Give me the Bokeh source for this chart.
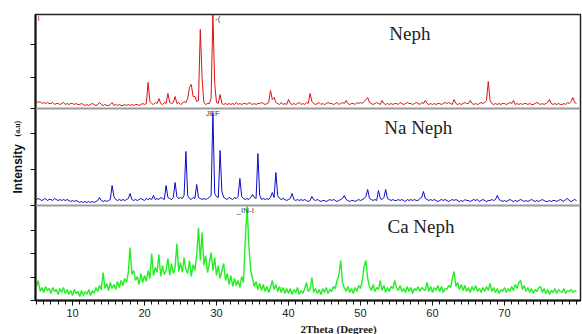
import numpy as np
from bokeh.plotting import figure
from bokeh.models import Range1d, FixedTicker, Label, Span, Title
from bokeh.embed import file_html
from bokeh.resources import INLINE

# 2Theta grid (degrees), 0.25 deg step from 5 to 80
two_theta = np.round(np.arange(5.0, 80.001, 0.25), 2)

# Intensities (a.u.), one group of 4 per degree
neph = [
    7, 6, 7, 5,  6, 5, 6, 5,  5, 6, 4, 5,  5, 4, 5, 6,  4, 5, 4, 5,
    5, 4, 5, 4,  4, 5, 4, 3,  4, 3, 4, 5,  4, 3, 4, 6,  4, 3, 4, 3,
    3, 4, 6, 3,  4, 3, 4, 3,  3, 4, 3, 4,  3, 4, 3, 4,  4, 3, 4, 5,
    4, 5, 26, 7,  5, 4, 6, 5,  10, 5, 4, 6,  5, 15, 6, 5,  6, 12, 5, 6,
    4, 5, 7, 6,  10, 21, 24, 12,  12, 7, 8, 79,  30, 6, 4, 5,  5, 10, 94, 25,
    6, 5, 14, 5,  4, 5, 4, 5,  4, 5, 4, 6,  4, 5, 4, 5,  5, 4, 6, 5,
    4, 5, 4, 5,  5, 6, 5, 4,  5, 6, 18, 9,  11, 6, 5, 4,  6, 4, 5, 4,
    9, 5, 4, 5,  4, 5, 6, 4,  5, 4, 6, 5,  15, 7, 5, 4,  5, 6, 4, 5,
    4, 5, 6, 5,  5, 4, 5, 6,  4, 5, 6, 5,  8, 5, 4, 5,  5, 4, 6, 5,
    6, 5, 7, 9,  11, 6, 5, 4,  5, 6, 5, 4,  8, 5, 4, 5,  4, 5, 4, 5,
    5, 4, 6, 5,  4, 5, 6, 5,  5, 4, 5, 6,  5, 4, 6, 5,  8, 5, 4, 5,
    4, 5, 4, 5,  5, 4, 5, 6,  5, 6, 5, 4,  9, 5, 4, 5,  4, 5, 6, 5,
    5, 8, 5, 4,  5, 4, 5, 6,  5, 6, 8, 27,  8, 5, 4, 5,  4, 5, 4, 5,
    5, 4, 5, 6,  5, 8, 4, 5,  4, 5, 4, 5,  5, 4, 5, 4,  4, 5, 6, 5,
    4, 5, 4, 5,  6, 9, 5, 4,  5, 4, 5, 4,  4, 5, 4, 6,  5, 7, 11, 6,
    5,
]
na_neph = [
    6, 7, 6, 5,  6, 7, 5, 6,  6, 5, 7, 6,  5, 6, 5, 6,  5, 6, 5, 4,
    5, 4, 5, 4,  3, 4, 3, 4,  3, 4, 3, 4,  3, 4, 5, 8,  5, 4, 5, 4,
    5, 6, 20, 9,  6, 5, 6, 5,  6, 5, 6, 7,  12, 6, 5, 6,  5, 6, 7, 6,
    5, 7, 6, 7,  6, 10, 6, 7,  6, 8, 7, 6,  20, 8, 7, 6,  8, 23, 9, 7,
    8, 7, 10, 54,  10, 7, 6, 8,  7, 21, 8, 7,  6, 7, 6, 7,  8, 10, 93, 12,
    9, 8, 55, 14,  8, 7, 6, 8,  7, 6, 8, 7,  9, 27, 9, 7,  6, 7, 6, 8,
    11, 8, 7, 52,  10, 6, 7, 6,  7, 6, 8, 13,  8, 33, 10, 7,  6, 7, 6, 5,
    6, 7, 12, 6,  5, 6, 5, 6,  5, 6, 5, 4,  5, 9, 6, 5,  6, 5, 4, 5,
    5, 4, 5, 6,  5, 6, 5, 4,  5, 6, 7, 10,  6, 5, 4, 5,  5, 4, 5, 6,
    5, 6, 7, 9,  16, 7, 6, 5,  6, 5, 15, 7,  6, 8, 16, 7,  6, 5, 6, 5,
    5, 6, 5, 6,  5, 4, 6, 5,  6, 5, 6, 5,  5, 7, 8, 14,  7, 6, 5, 6,
    5, 6, 5, 4,  5, 6, 5, 6,  5, 4, 5, 6,  5, 6, 5, 4,  5, 4, 6, 5,
    5, 4, 5, 6,  5, 6, 4, 5,  6, 5, 4, 5,  5, 6, 5, 6,  10, 6, 5, 4,
    5, 4, 5, 6,  5, 4, 5, 4,  5, 6, 5, 4,  5, 4, 5, 6,  5, 4, 5, 4,
    5, 6, 5, 4,  4, 5, 4, 5,  5, 4, 5, 6,  5, 4, 6, 7,  5, 4, 5, 6,
    5,
]
ca_neph = [
    14, 20, 9, 13,  8, 14, 10, 12,  7, 13, 9, 11,  6, 12, 8, 13,  7, 11, 6, 10,
    5, 11, 7, 9,  4, 10, 5, 9,  6, 11, 5, 10,  7, 13, 9, 15,  11, 28, 12, 17,
    10, 18, 12, 16,  11, 19, 13, 20,  15, 22, 18, 28,  53, 26, 30, 20,  24, 16, 27, 18,
    25, 19, 30, 22,  47, 25, 33, 28,  46, 24, 35, 26,  30, 42, 25, 37,  27, 33, 57, 29,
    38, 28, 43, 31,  27, 40, 24, 36,  30, 45, 73, 40,  68, 35, 45, 28,  37, 48, 30, 43,
    25, 35, 22, 30,  37, 20, 27, 16,  25, 14, 22, 15,  20, 13, 24, 18,  60, 95, 55, 30,
    22, 14, 19, 11,  17, 10, 16, 9,  14, 8, 13, 20,  11, 16, 9, 14,  8, 13, 7, 12,
    7, 12, 6, 11,  8, 13, 6, 10,  7, 12, 18, 9,  11, 23, 8, 12,  7, 11, 6, 12,
    8, 13, 7, 11,  9, 14, 12, 20,  26, 40, 18, 13,  9, 14, 8, 12,  7, 13, 9, 15,
    12, 20, 34, 40,  22, 14, 10, 16,  9, 13, 11, 20,  10, 15, 8, 13,  9, 14, 12, 20,
    13, 10, 15, 9,  12, 8, 14, 9,  13, 7, 12, 10,  14, 9, 13, 11,  10, 18, 9, 14,
    8, 13, 10, 15,  9, 14, 8, 12,  11, 15, 13, 22,  29, 14, 18, 11,  16, 10, 15, 9,
    13, 8, 14, 10,  15, 9, 12, 8,  13, 9, 14, 10,  17, 9, 13, 8,  12, 7, 11, 9,
    13, 8, 12, 9,  14, 10, 16, 12,  18, 20, 11, 15,  9, 13, 8, 12,  7, 11, 9, 13,
    14, 8, 12, 7,  11, 6, 10, 8,  12, 7, 11, 9,  8, 12, 7, 10,  9, 11, 8, 10,
    9,
]

# vertical stacking offsets of the three patterns
CA_OFF, NA_OFF, NEPH_OFF = 0, 95, 192
y_ticks = [0, 23, 47, 70, 95, 131, 167, 192, 223, 256]
x_ticks = [10, 20, 30, 40, 50, 60, 70]

assert len(neph) == len(two_theta) == len(na_neph) == len(ca_neph)

p = figure(width=582, height=334, x_range=Range1d(4.86, 80.56), y_range=Range1d(0, 286),
           output_backend="svg", toolbar_location=None,
           min_border_left=35, min_border_right=2, min_border_top=14, min_border_bottom=34)
p.xgrid.visible = False
p.ygrid.visible = False
p.outline_line_color = "#222222"
p.outline_line_width = 1.5
p.background_fill_color = "white"
p.border_fill_color = "white"

# x axis
xa = p.xaxis[0]
xa.ticker = FixedTicker(ticks=x_ticks, minor_ticks=list(range(5, 81)))
xa.axis_line_width = 2
xa.axis_line_color = "#111111"
xa.major_tick_out = 5
xa.major_tick_in = 0
xa.minor_tick_out = 4
xa.minor_tick_in = 0
xa.major_tick_line_color = "#111111"
xa.minor_tick_line_color = "#111111"
xa.major_label_standoff = 3
xa.major_label_text_font = "Liberation Sans"
xa.major_label_text_font_size = "11px"
xa.major_label_text_color = "#222222"

# y axis
ya = p.yaxis[0]
ya.ticker = FixedTicker(ticks=y_ticks, minor_ticks=[])
ya.major_label_overrides = {t: "" for t in y_ticks}
ya.major_label_text_font_size = "1px"
ya.major_label_standoff = 0
ya.axis_line_width = 2
ya.axis_line_color = "#111111"
ya.major_tick_out = 5
ya.major_tick_in = 0
ya.major_tick_line_color = "#111111"

# panel baselines
for off in (NA_OFF, NEPH_OFF):
    p.add_layout(Span(location=off, dimension="width", line_color="#9a9a9a", line_width=2))

p.line(two_theta, np.array(ca_neph) + CA_OFF, line_color="#22ee22", line_width=1.4)
p.line(two_theta, np.array(na_neph) + NA_OFF, line_color="#0a0ac8", line_width=1)
p.line(two_theta, np.array(neph) + NEPH_OFF, line_color="#dd1111", line_width=1)

serif = "Liberation Serif"
for txt, x, y in [("Neph", 54.0, 267), ("Na Neph", 53.3, 173), ("Ca Neph", 53.75, 74)]:
    p.add_layout(Label(x=x, y=y, text=txt, text_font=serif, text_font_size="19px",
                       text_baseline="middle", text_align="left", text_color="#222222"))

# small marker texts
for txt, x, y, col in [("I", 5.3, 282, "#cc2222"), ("-(", 29.8, 282, "#444444"),
                       ("JEF", 29.5, 187, "#444444"), ("_IN-I", 34.0, 90, "#444444")]:
    p.add_layout(Label(x=x, y=y, text=txt, text_font="Liberation Sans", text_font_size="8px",
                       text_baseline="middle", text_align="center" if txt != "-(" else "left",
                       text_color=col))

# axis titles as side titles (offset from the frame start)
t_int = Title(text="Intensity", align="left", offset=107, standoff=12,
              text_font="Liberation Sans", text_font_style="bold", text_font_size="12px",
              text_color="#111111")
t_au = Title(text="(a.u)", align="left", offset=164, standoff=-39,
             text_font=serif, text_font_style="bold", text_font_size="8px",
             text_color="#111111")
p.add_layout(t_int, "left")
p.add_layout(t_au, "left")
t_2t = Title(text="2Theta", align="left", offset=265, standoff=-30,
             text_font=serif, text_font_size="11px", text_color="#222222")
t_deg = Title(text="(Degree)", align="left", offset=301, standoff=-30,
              text_font=serif, text_font_style="bold", text_font_size="11px",
              text_color="#222222")
p.add_layout(t_2t, "below")
p.add_layout(t_deg, "below")

open("out.html", "w").write(file_html(p, INLINE))
